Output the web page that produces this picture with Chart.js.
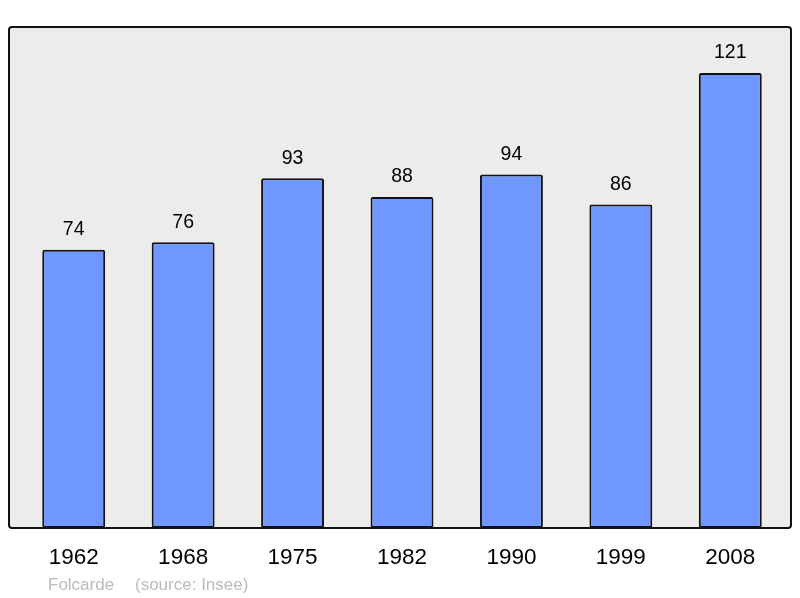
<!DOCTYPE html>
<html><head><meta charset="utf-8">
<script src="https://cdn.jsdelivr.net/npm/chart.js@4/dist/chart.umd.min.js"></script>
<style>html,body{margin:0;padding:0;background:#fff}#w{width:800px;height:598px}</style>
</head><body><div id="w"><canvas id="c" width="800" height="598"></canvas></div>
<script>
const years = ['1962','1968','1975','1982','1990','1999','2008'];
const population = [74, 76, 93, 88, 94, 86, 121];
const footerAuthor = 'Folcarde';
const footerSource = '(source: Insee)';

function framePath(ctx) {
  const x0 = 9, y0 = 27, x1 = 791, y1 = 528, r = 3;
  ctx.beginPath();
  ctx.moveTo(x0 + r, y0);
  ctx.lineTo(x1 - r, y0); ctx.arcTo(x1, y0, x1, y0 + r, r);
  ctx.lineTo(x1, y1 - r); ctx.arcTo(x1, y1, x1 - r, y1, r);
  ctx.lineTo(x0 + r, y1); ctx.arcTo(x0, y1, x0, y1 - r, r);
  ctx.lineTo(x0, y0 + r); ctx.arcTo(x0, y0, x0 + r, y0, r);
  ctx.closePath();
}

const framePlugin = {
  id: 'frame',
  beforeDraw(chart) {
    const ctx = chart.ctx;
    ctx.save();
    ctx.fillStyle = '#fff';
    ctx.fillRect(0, 0, chart.width, chart.height);
    framePath(ctx);
    ctx.fillStyle = '#ececec';
    ctx.fill();
    ctx.restore();
  },
  afterDatasetsDraw(chart) {
    const ctx = chart.ctx;
    ctx.save();
    const meta = chart.getDatasetMeta(0);
    ctx.font = '19.5px "Liberation Sans", Arial, sans-serif';
    ctx.fillStyle = '#000';
    ctx.textAlign = 'center';
    ctx.textBaseline = 'middle';
    meta.data.forEach((bar, i) => {
      ctx.fillText(String(population[i]), bar.x, bar.y - 20);
    });
    framePath(ctx);
    ctx.strokeStyle = '#111';
    ctx.lineWidth = 2;
    ctx.stroke();
    ctx.font = '17px "Liberation Sans", Arial, sans-serif';
    ctx.fillStyle = '#bbbbbb';
    ctx.textAlign = 'left';
    ctx.fillText(footerAuthor, 48, 585);
    ctx.fillText(footerSource, 135, 585);
    ctx.restore();
  }
};

new Chart(document.getElementById('c'), {
  type: 'bar',
  data: {
    labels: years,
    datasets: [{
      data: population,
      backgroundColor: '#7097ff',
      borderColor: '#111',
      borderWidth: 2,
      borderRadius: 2,
      borderSkipped: false,
      barPercentage: 0.575,
      categoryPercentage: 1
    }]
  },
  options: {
    responsive: false,
    animation: false,
    devicePixelRatio: 1,
    layout: { padding: { left: 19, right: 15, top: 27, bottom: 0 } },
    plugins: { legend: { display: false }, tooltip: { enabled: false } },
    scales: {
      y: { display: false, min: 0, max: 133.2 },
      x: {
        grid: { display: false, drawTicks: false },
        border: { display: false },
        ticks: { color: '#000', font: { family: '"Liberation Sans", Arial, sans-serif', size: 22.5 }, padding: 16, maxRotation: 0 },
        afterFit(scale) { scale.height = 70; }
      }
    }
  },
  plugins: [framePlugin]
});
</script>
</body></html>
